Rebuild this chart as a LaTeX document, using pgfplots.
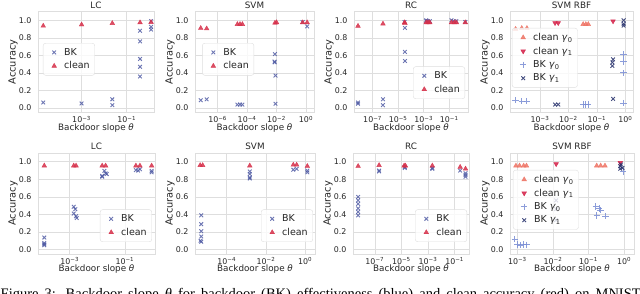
\documentclass[border=0pt]{standalone}
\usepackage{fontspec}
\setmainfont{DejaVu Sans}
\newfontfamily\capfont{Liberation Serif}
\usepackage{pgfplots}
\pgfplotsset{compat=1.18}
\definecolor{bk}{RGB}{72,84,160}
\definecolor{cl}{RGB}{214,48,74}
\definecolor{clA}{RGB}{238,115,100}
\definecolor{clB}{RGB}{212,30,70}
\definecolor{bkA}{RGB}{120,140,212}
\definecolor{bkB}{RGB}{35,45,105}
\definecolor{gridc}{RGB}{222,222,222}
\definecolor{txt}{RGB}{38,38,38}
\pgfplotsset{
  scale only axis, height=101pt,
  ymin=-0.05, ymax=1.1,
  ytick={0,0.2,0.4,0.6,0.8,1.0},
  yticklabel style={/pgf/number format/fixed,/pgf/number format/fixed zerofill,/pgf/number format/precision=1,xshift=-3pt},
  /pgf/number format/assume math mode=true,
  xmajorgrids, ymajorgrids, major grid style={draw=gridc, line width=0.6pt},
  axis line style={draw=gridc, line width=0.8pt},
  major tick length=0pt, minor tick length=0pt,
  tick label style={font=\fontsize{7.9}{9}\selectfont, text=txt},
  label style={font=\fontsize{8.8}{9}\selectfont, text=txt},
  every axis title shift=0pt,
  title style={font=\fontsize{8.8}{9}\selectfont, text=txt, at={(0.5,1)}, anchor=base, yshift=3pt},
  xlabel={Backdoor slope \textit{θ}},
  ylabel={Accuracy},
  xlabel style={at={([yshift=-18pt]axis description cs:0.5,0)}, anchor=base},
  ylabel style={at={([xshift=-25pt]axis description cs:0,0.5)}, anchor=center, font=\fontsize{9.8}{10}\selectfont},
  legend style={font=\fontsize{9.5}{10}\selectfont, text=txt, draw=gridc, fill=white, fill opacity=0.8, text opacity=1, rounded corners=2.5pt, inner xsep=3pt, inner ysep=3pt, row sep=1pt, nodes={inner sep=2pt, sharp corners}, cells={anchor=west}},
  legend image post style={sharp corners},
  legend image code/.code={\path[draw=none,fill=none] (0pt,-3pt) rectangle (16pt,3pt); \draw[#1] plot coordinates {(8pt,0pt)};},
}
\tikzset{
 bkm/.style={only marks, mark=x, mark size=2.6pt, color=bk, line width=0.9pt, opacity=0.8},
 clm/.style={only marks, mark=triangle*, mark size=2.7pt, color=cl, opacity=0.85},
 clAm/.style={only marks, mark=triangle*, mark size=2.7pt, color=clA, opacity=0.85},
 clBm/.style={only marks, mark=triangle*, mark size=2.7pt, color=clB, opacity=0.85, mark options={rotate=180}},
 bkAm/.style={only marks, mark=+, mark size=3.2pt, color=bkA, line width=1pt, opacity=0.85},
 bkBm/.style={only marks, mark=x, mark size=2.6pt, color=bkB, line width=0.9pt, opacity=0.85},
}
\newcommand{\tp}[1]{10\textsuperscript{#1}}
\begin{document}
\begin{tikzpicture}
\useasboundingbox (0,0) rectangle (640pt,294pt);
% ---------------- Row 1 ----------------
\begin{axis}[xmode=log, at={(38pt,181.5pt)}, anchor=south west, width=116pt, title={LC},
  xmin=1.17e-5, xmax=1.62, xtick={1e-3,1e-1}, xticklabels={\tp{−3},\tp{−1}},
  legend style={at={(0.043,0.688)}, anchor=north west}]
\addplot[bkm] coordinates {(2e-5,0.064) (1e-3,0.053) (0.023,0.10) (0.023,0.034) (0.39,0.88) (0.39,0.76) (0.39,0.56) (0.39,0.47) (0.39,0.36) (1.2,0.925) (1.2,0.894) (1.2,0.99)};
\addlegendentry{BK}
\addplot[clm] coordinates {(2e-5,0.936) (1e-3,0.95) (0.023,0.966) (0.39,0.974) (1.2,0.977)};
\addlegendentry{clean}
\end{axis}
\begin{axis}[xmode=log, at={(195pt,181.5pt)}, anchor=south west, width=119pt, title={SVM},
  xmin=2.9e-8, xmax=3.5, xtick={1e-6,1e-4,1e-2,1}, xticklabels={\tp{−6},\tp{−4},\tp{−2},\tp{0}},
  legend style={at={(0.06,0.688)}, anchor=north west}]
\addplot[bkm] coordinates {(7.1e-8,0.09) (1.8e-7,0.10) (2.2e-5,0.04) (3.3e-5,0.04) (4.8e-5,0.04) (7.8e-3,0.615) (7.4e-3,0.53) (7.4e-3,0.52) (8.5e-3,0.37) (8.5e-3,0.05) (0.59,0.98) (1.2,0.93)};
\addlegendentry{BK}
\addplot[clm] coordinates {(7.1e-8,0.91) (1.8e-7,0.905) (2.2e-5,0.955) (3.3e-5,0.955) (4.8e-5,0.955) (7.8e-3,0.97) (1e-2,0.975) (0.59,0.975) (1.2,0.975)};
\addlegendentry{clean}
\end{axis}
\begin{axis}[xmode=log, at={(354pt,181.5pt)}, anchor=south west, width=114pt, title={RC},
  xmin=3.5e-9, xmax=2.95, xtick={1e-7,1e-5,1e-3,1e-1}, xticklabels={\tp{−7},\tp{−5},\tp{−3},\tp{−1}},
  legend style={at={(0.974,0.134)}, anchor=south east}]
\addplot[bkm] coordinates {(7.2e-9,0.064) (7.2e-9,0.05) (6.5e-7,0.10) (6.5e-7,0.034) (3.2e-5,0.98) (3.4e-5,0.913) (3.4e-5,0.64) (3.4e-5,0.536) (1.6e-3,1.0) (1.6e-3,0.99) (2.2e-3,0.99) (3e-3,0.99) (0.15,1.0) (0.22,0.99) (0.36,0.99) (1.8,0.98)};
\addlegendentry{BK}
\addplot[clm] coordinates {(7.2e-9,0.935) (6.5e-7,0.96) (3.2e-5,0.975) (3.4e-5,0.965) (1.6e-3,0.975) (2.2e-3,0.975) (3e-3,0.975) (0.15,0.975) (0.25,0.975) (0.36,0.975) (1.8,0.975)};
\addlegendentry{clean}
\end{axis}
\begin{axis}[xmode=log, at={(510pt,181.5pt)}, anchor=south west, width=123pt, title={SVM RBF},
  xmin=8.9e-5, xmax=1.86, xtick={1e-3,1e-2,1e-1,1}, xticklabels={\tp{−3},\tp{−2},\tp{−1},\tp{0}},
  legend style={at={(0.016,0.837)}, anchor=north west}]
\addplot[clAm] coordinates {(1.4e-4,0.90) (2.3e-4,0.91) (3.5e-4,0.91) (0.033,0.955) (0.041,0.955) (0.05,0.955)};
\addlegendentry{clean \textit{γ}\textsubscript{0}}
\addplot[clBm] coordinates {(3.4e-3,0.97) (4.4e-3,0.97) (0.37,0.99)};
\addlegendentry{clean \textit{γ}\textsubscript{1}}
\addplot[bkAm] coordinates {(1.4e-4,0.09) (2.3e-4,0.08) (3.5e-4,0.08) (0.033,0.04) (0.041,0.04) (0.05,0.04) (0.87,0.61) (0.87,0.53) (0.87,0.40) (0.87,0.057)};
\addlegendentry{BK \textit{γ}\textsubscript{0}}
\addplot[bkBm] coordinates {(3.4e-3,0.04) (4.4e-3,0.04) (0.37,0.105) (0.37,0.555) (0.35,0.52) (0.35,0.48) (0.87,1.0) (0.87,0.96) (0.87,0.94)};
\addlegendentry{BK \textit{γ}\textsubscript{1}}
\end{axis}
% ---------------- Row 2 ----------------
\begin{axis}[xmode=log, at={(38pt,40pt)}, anchor=south west, width=117pt, title={LC},
  xmin=7.1e-5, xmax=1.23, xtick={1e-3,1e-1}, xticklabels={\tp{−3},\tp{−1}},
  legend style={at={(0.974,0.119)}, anchor=south east}]
\addplot[bkm] coordinates {(1.2e-4,0.137) (1.2e-4,0.075) (1.2e-4,0.06) (1.2e-4,0.05) (1.4e-3,0.487) (1.6e-3,0.46) (1.4e-3,0.41) (1.7e-3,0.38) (1.8e-3,0.36) (0.018,0.897) (0.02,0.867) (0.015,0.84) (0.015,0.83) (0.022,0.86) (0.25,0.905) (0.35,0.915) (0.3,0.90) (0.93,0.897) (0.93,0.88)};
\addlegendentry{BK}
\addplot[clm] coordinates {(1.2e-4,0.955) (1.4e-3,0.955) (1.7e-3,0.955) (0.015,0.955) (0.02,0.955) (0.25,0.955) (0.35,0.955) (0.93,0.955)};
\addlegendentry{clean}
\end{axis}
\begin{axis}[xmode=log, at={(195pt,40pt)}, anchor=south west, width=120pt, title={SVM},
  xmin=2.4e-6, xmax=3.2, xtick={1e-4,1e-2,1}, xticklabels={\tp{−4},\tp{−2},\tp{0}},
  legend style={at={(0.983,0.119)}, anchor=south east}]
\addplot[bkm] coordinates {(5e-6,0.39) (5e-6,0.29) (5e-6,0.21) (5e-6,0.15) (5e-6,0.09) (4.6e-6,0.10) (1.5e-3,0.89) (1.5e-3,0.86) (1.5e-3,0.82) (1.5e-3,0.81) (0.25,0.91) (0.37,0.92) (1.3,0.88) (1.3,0.90)};
\addlegendentry{BK}
\addplot[clm] coordinates {(4.4e-6,0.96) (5.9e-6,0.96) (1.5e-3,0.955) (0.25,0.965) (0.37,0.965) (1.3,0.95)};
\addlegendentry{clean}
\end{axis}
\begin{axis}[xmode=log, at={(353pt,40pt)}, anchor=south west, width=116pt, title={RC},
  xmin=2.3e-9, xmax=1.2, xtick={1e-7,1e-5,1e-3,1e-1}, xticklabels={\tp{−7},\tp{−5},\tp{−3},\tp{−1}},
  legend style={at={(0.983,0.119)}, anchor=south east}]
\addplot[bkm] coordinates {(5.6e-9,0.60) (5.6e-9,0.56) (5.6e-9,0.52) (5.6e-9,0.47) (5.6e-9,0.43) (5.6e-9,0.39) (2.1e-7,0.90) (2.1e-7,0.89) (1.8e-5,0.93) (1.8e-5,0.94) (2.1e-3,0.92) (2.1e-3,0.93) (0.26,0.90) (0.66,0.83) (0.66,0.85) (0.66,0.87)};
\addlegendentry{BK}
\addplot[clm] coordinates {(5.6e-9,0.95) (2.1e-7,0.96) (1.6e-5,0.955) (2e-5,0.955) (2.1e-3,0.955) (0.26,0.94) (0.66,0.92)};
\addlegendentry{clean}
\end{axis}
\begin{axis}[xmode=log, at={(510pt,40pt)}, anchor=south west, width=124pt, title={SVM RBF},
  xmin=6.2e-4, xmax=1.9, xtick={1e-3,1e-2,1e-1,1}, xticklabels={\tp{−3},\tp{−2},\tp{−1},\tp{0}},
  legend style={at={(0.024,0.832)}, anchor=north west}]
\addplot[clAm] coordinates {(9.1e-4,0.955) (1.15e-3,0.955) (1.5e-3,0.955) (1.8e-3,0.955) (0.17,0.955) (0.22,0.955) (0.29,0.955)};
\addlegendentry{clean \textit{γ}\textsubscript{0}}
\addplot[clBm] coordinates {(0.0123,0.975) (0.78,0.99)};
\addlegendentry{clean \textit{γ}\textsubscript{1}}
\addplot[bkAm] coordinates {(8.5e-4,0.12) (1e-3,0.06) (1.2e-3,0.05) (1.5e-3,0.06) (1.8e-3,0.055) (0.16,0.49) (0.2,0.47) (0.17,0.39) (0.22,0.45) (0.3,0.38) (0.95,0.89)};
\addlegendentry{BK \textit{γ}\textsubscript{0}}
\addplot[bkBm] coordinates {(0.0123,0.56) (0.0123,0.46) (0.0123,0.335) (0.78,0.95) (0.78,0.92) (0.82,0.97) (0.9,0.93)};
\addlegendentry{BK \textit{γ}\textsubscript{1}}
\end{axis}
\node[anchor=base west, inner sep=0pt] at (0.5pt,-4.6pt) {\capfont\fontsize{14.5}{16}\selectfont\makebox[640pt][s]{Figure 3: Backdoor slope \textit{θ} for backdoor (BK) effectiveness (blue) and clean accuracy (red) on MNIST}};
\end{tikzpicture}
\end{document}
